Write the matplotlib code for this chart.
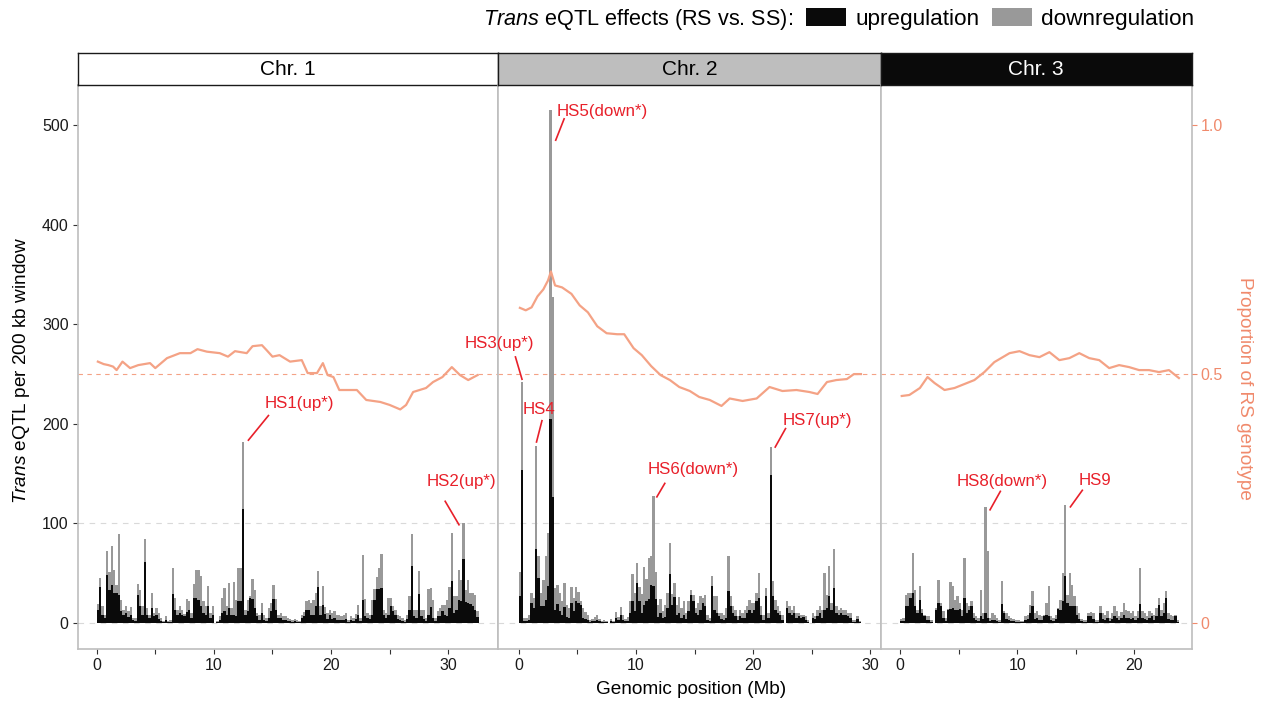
import numpy as np
import matplotlib.pyplot as plt
from matplotlib.patches import Patch

plt.rcParams['font.family'] = ['Liberation Sans', 'DejaVu Sans']
plt.rcParams['mathtext.fontset'] = 'custom'
plt.rcParams['mathtext.rm'] = 'Liberation Sans'
plt.rcParams['mathtext.it'] = 'Liberation Sans:italic'

# ---- data: trans eQTL counts per 200 kb window (upregulation / downregulation) ----
chrom_names = ['Chr. 1', 'Chr. 2', 'Chr. 3']
window_mb = 0.2

chr1_up = [13, 36, 8, 5, 48, 33, 38, 30, 30, 28, 12, 8, 10, 6, 8, 3, 2, 28, 17, 8,
           61, 8, 5, 15, 7, 8, 4, 2, 1, 3, 1, 1, 29, 13, 8, 10, 8, 7, 11, 13,
           5, 25, 25, 23, 17, 10, 8, 17, 5, 8, 0, 1, 3, 10, 12, 8, 15, 8, 8, 7,
           22, 22, 115, 8, 12, 25, 24, 15, 7, 3, 10, 3, 2, 5, 12, 24, 13, 5, 5, 3,
           3, 2, 2, 1, 2, 1, 1, 5, 7, 13, 13, 8, 8, 17, 36, 8, 18, 9, 4, 8,
           4, 5, 3, 3, 3, 3, 4, 1, 3, 2, 4, 8, 2, 23, 7, 5, 4, 8, 23, 34,
           34, 35, 8, 5, 8, 17, 12, 8, 4, 3, 2, 1, 4, 13, 57, 7, 5, 29, 7, 4,
           2, 8, 16, 5, 2, 7, 7, 12, 8, 7, 15, 42, 10, 13, 23, 22, 64, 21, 20, 19,
           17, 13, 6]
chr1_down = [6, 9, 9, 3, 24, 18, 39, 23, 8, 61, 11, 5, 7, 6, 8, 2, 3, 11, 16, 9,
             23, 7, 3, 15, 3, 7, 6, 3, 1, 4, 1, 2, 26, 12, 5, 7, 5, 2, 13, 9,
             5, 14, 28, 30, 30, 12, 9, 20, 5, 9, 0, 1, 4, 15, 23, 9, 25, 7, 33, 16,
             33, 33, 67, 5, 11, 2, 20, 18, 3, 5, 10, 5, 3, 10, 8, 14, 11, 3, 5, 4,
             4, 3, 2, 2, 2, 2, 1, 3, 4, 9, 10, 12, 15, 13, 16, 9, 19, 7, 6, 5,
             6, 7, 5, 5, 4, 5, 6, 2, 4, 3, 5, 10, 3, 45, 17, 5, 4, 15, 11, 12,
             21, 34, 5, 5, 17, 8, 5, 5, 4, 4, 3, 2, 4, 14, 32, 6, 8, 23, 6, 9,
             3, 26, 19, 18, 3, 5, 8, 6, 10, 16, 21, 48, 17, 14, 30, 21, 36, 12, 23, 11,
             13, 15, 6]

chr2_up = [27, 154, 2, 2, 3, 20, 15, 74, 45, 17, 17, 23, 37, 205, 127, 13, 19, 12, 8, 16,
           6, 5, 20, 12, 22, 20, 18, 5, 4, 3, 1, 2, 2, 3, 2, 1, 1, 1, 0, 2,
           1, 5, 3, 8, 3, 2, 2, 10, 22, 12, 40, 22, 10, 18, 22, 24, 38, 37, 24, 6,
           10, 5, 6, 15, 49, 18, 26, 8, 10, 5, 8, 4, 12, 28, 22, 10, 8, 13, 20, 17,
           3, 2, 37, 13, 10, 7, 4, 3, 5, 32, 17, 10, 7, 3, 7, 5, 5, 10, 13, 10,
           13, 22, 25, 8, 3, 27, 5, 149, 27, 13, 10, 8, 3, 0, 15, 10, 8, 10, 5, 7,
           5, 6, 3, 1, 0, 5, 4, 7, 10, 5, 13, 15, 27, 13, 35, 10, 8, 10, 8, 8,
           7, 5, 1, 1, 4, 1]
chr2_down = [24, 88, 3, 3, 5, 10, 10, 104, 22, 13, 26, 44, 53, 310, 200, 22, 19, 18, 14, 24,
             12, 10, 16, 13, 14, 11, 4, 10, 7, 5, 2, 2, 4, 5, 2, 1, 2, 1, 0, 2,
             1, 6, 3, 8, 5, 2, 4, 12, 27, 18, 20, 14, 19, 38, 22, 41, 29, 91, 27, 12,
             14, 7, 12, 15, 31, 11, 14, 10, 16, 10, 14, 6, 10, 5, 6, 5, 12, 14, 5, 11,
             5, 3, 10, 14, 17, 3, 6, 5, 10, 35, 10, 7, 6, 4, 6, 5, 8, 7, 10, 10,
             7, 8, 25, 9, 5, 8, 5, 28, 15, 10, 7, 4, 5, 0, 7, 7, 5, 7, 5, 3,
             3, 2, 4, 2, 0, 5, 3, 6, 7, 8, 37, 13, 30, 7, 39, 7, 5, 5, 5, 5,
             3, 5, 2, 2, 3, 1]

chr3_up = [2, 2, 17, 17, 25, 30, 17, 10, 23, 10, 7, 3, 3, 1, 0, 13, 20, 17, 5, 2,
           13, 14, 15, 13, 13, 14, 7, 25, 10, 13, 17, 5, 3, 2, 7, 4, 10, 5, 2, 3,
           3, 2, 1, 19, 10, 4, 3, 2, 2, 1, 1, 1, 1, 3, 4, 10, 17, 4, 5, 3,
           3, 7, 8, 7, 3, 2, 4, 14, 13, 22, 47, 20, 17, 17, 17, 8, 4, 2, 1, 1,
           7, 7, 4, 1, 1, 10, 4, 3, 5, 2, 4, 7, 5, 3, 5, 8, 5, 5, 4, 5,
           3, 5, 19, 5, 4, 3, 5, 7, 3, 7, 18, 7, 10, 25, 4, 3, 3, 7, 1]
chr3_down = [2, 3, 11, 13, 5, 40, 16, 3, 14, 4, 1, 4, 4, 2, 0, 2, 23, 3, 7, 3,
             1, 27, 22, 10, 14, 6, 6, 40, 10, 4, 5, 5, 4, 3, 26, 6, 107, 67, 3, 7,
             5, 3, 2, 23, 2, 6, 4, 3, 2, 2, 2, 1, 1, 4, 4, 8, 15, 6, 7, 5,
             4, 1, 12, 30, 4, 3, 4, 1, 10, 28, 72, 8, 33, 21, 10, 9, 6, 2, 2, 2,
             3, 4, 6, 2, 2, 7, 6, 5, 7, 3, 6, 10, 7, 4, 6, 12, 8, 7, 6, 7,
             4, 7, 36, 7, 6, 4, 7, 3, 5, 8, 7, 6, 10, 7, 6, 5, 4, 1, 2]

# ---- proportion of RS genotype along each chromosome ----
chr1_rs_pos = [0.1, 0.6, 1.0, 1.4, 1.7, 2.2, 2.85, 3.55, 4.55, 5.0, 6.0, 7.1, 8.0, 8.6, 9.4,
               10.5, 11.2, 11.8, 12.8, 13.3, 14.1, 14.5, 15.0, 15.6, 16.5, 17.5, 18.0, 18.8,
               19.3, 19.7, 20.2, 20.7, 21.3, 22.2, 23.0, 24.2, 25.0, 25.9, 26.4, 27.0, 28.1,
               28.7, 29.5, 30.3, 31.0, 31.7, 32.5]
chr1_rs = [0.525, 0.52, 0.518, 0.515, 0.508, 0.525, 0.512, 0.518, 0.522, 0.512, 0.532, 0.542,
           0.542, 0.55, 0.545, 0.542, 0.535, 0.546, 0.542, 0.556, 0.558, 0.548, 0.535, 0.538,
           0.525, 0.528, 0.502, 0.502, 0.522, 0.498, 0.494, 0.468, 0.468, 0.468, 0.448, 0.444,
           0.438, 0.429, 0.438, 0.464, 0.472, 0.484, 0.494, 0.514, 0.498, 0.488, 0.498]
chr2_rs_pos = [0.1, 0.6, 1.1, 1.6, 2.1, 2.5, 2.75, 3.1, 3.7, 4.5, 5.2, 5.9, 6.7, 7.5, 8.4,
               9.0, 9.8, 10.5, 11.3, 12.1, 12.9, 13.7, 14.6, 15.4, 16.3, 17.3, 18.0, 19.1,
               20.3, 21.4, 22.5, 23.7, 24.8, 25.5, 26.3, 27.1, 28.0, 28.6, 29.2]
chr2_rs = [0.633, 0.628, 0.634, 0.656, 0.670, 0.688, 0.706, 0.678, 0.674, 0.661, 0.638, 0.624,
           0.596, 0.582, 0.580, 0.580, 0.552, 0.538, 0.516, 0.498, 0.488, 0.474, 0.466, 0.454,
           0.448, 0.436, 0.451, 0.446, 0.451, 0.474, 0.466, 0.468, 0.464, 0.460, 0.484, 0.488,
           0.490, 0.500, 0.500]
chr3_rs_pos = [0.15, 0.8, 1.7, 2.35, 2.95, 3.8, 4.65, 5.5, 6.35, 7.2, 8.05, 9.35, 10.2, 11.05,
               11.9, 12.75, 13.6, 14.45, 15.3, 16.15, 17.0, 17.85, 18.7, 19.55, 20.4, 21.25,
               22.1, 22.95, 23.8]
chr3_rs = [0.456, 0.458, 0.472, 0.494, 0.482, 0.468, 0.472, 0.48, 0.488, 0.504, 0.524, 0.542,
           0.546, 0.538, 0.534, 0.544, 0.528, 0.532, 0.542, 0.532, 0.528, 0.512, 0.518, 0.514,
           0.508, 0.508, 0.504, 0.508, 0.492]

# ---- hotspots: chromosome, window index, label ----
hs_chrom = [0, 0, 1, 1, 1, 1, 1, 2, 2]
hs_window = [62, 156, 1, 7, 13, 57, 107, 36, 70]
hs_labels = ['HS1(up*)', 'HS2(up*)', 'HS3(up*)', 'HS4', 'HS5(down*)',
             'HS6(down*)', 'HS7(up*)', 'HS8(down*)', 'HS9']
# label placement relative to the bar top (Mb, count): leader start, leader end, text
hs_offsets = [((0.4, 1), (2.2, 27), (4.8, 38)),
              ((-0.35, -2), (-1.6, 23), (-0.2, 42)),
              ((0.0, 2), (-0.6, 26), (-1.95, 39)),
              ((0.0, 3), (0.5, 26), (0.25, 36)),
              ((0.43, -31), (1.2, -8), (4.4, -1)),
              ((0.25, -2), (1.0, 13), (3.4, 26)),
              ((0.35, -1), (1.3, 19), (4.0, 26)),
              ((0.35, -4), (1.3, 16), (1.4, 25)),
              ((0.4, -3), (1.5, 15), (2.55, 24))]

ups = [chr1_up, chr2_up, chr3_up]
downs = [chr1_down, chr2_down, chr3_down]
rs_pos = [chr1_rs_pos, chr2_rs_pos, chr3_rs_pos]
rs_val = [chr1_rs, chr2_rs, chr3_rs]

# ---- layout ----
W, H = 1265, 702
fig = plt.figure(figsize=(W / 100, H / 100), dpi=100)

def box(x0, y0, x1, y1):
    return [x0 / W, 1 - y1 / H, (x1 - x0) / W, (y1 - y0) / H]

xlims = [(-1.62, 34.27), (-1.74, 30.89), (-1.64, 24.9)]
ylim = (-26.0, 540.2)
px_per_mb = 11.72
panel_left, panel_top, panel_bottom = 77.7, 85, 649
strip_top = 53
strip_bg = ['white', '#BEBEBE', '#0A0A0A']
strip_fg = ['black', 'black', 'white']

c_up, c_down = '#0A0A0A', '#999999'
c_rs = '#F4A285'
c_rs_text = '#F08A6C'
c_red = '#E8202A'
border = '#BEBEBE'

x0 = panel_left
axes = []
for k in range(3):
    width_px = (xlims[k][1] - xlims[k][0]) * px_per_mb
    x1 = x0 + width_px
    ax = fig.add_axes(box(x0, panel_top, x1, panel_bottom))
    up = np.array(ups[k])
    down = np.array(downs[k])
    pos = np.arange(len(up)) * window_mb + window_mb / 2

    ax.axhline(0, color='#D9D9D9', lw=0.8, ls=(0, (5, 5)), zorder=0.5)
    ax.axhline(100, color='#D9D9D9', lw=0.8, ls=(0, (5, 5)), zorder=0.5)
    ax.axhline(250, color=c_rs, lw=0.8, ls=(0, (4, 4)), zorder=0.5)
    ax.bar(pos, up, width=window_mb, color=c_up, lw=0, zorder=2)
    ax.bar(pos, down, bottom=up, width=window_mb, color=c_down, lw=0, zorder=2)
    ax.plot(rs_pos[k], np.array(rs_val[k]) * 500, color=c_rs, lw=1.6, zorder=3)

    ax.set_xlim(*xlims[k])
    ax.set_ylim(*ylim)
    ticks = np.arange(0, xlims[k][1], 5)
    ax.set_xticks(ticks)
    ax.set_xticklabels([f'{int(t)}' if t % 10 == 0 else '' for t in ticks])
    ax.tick_params(axis='x', length=3.5, width=0.8, color='#333333', labelsize=11.5,
                   labelcolor='#1A1A1A', pad=3)
    if k == 0:
        ax.set_yticks([0, 100, 200, 300, 400, 500])
        ax.tick_params(axis='y', length=3.5, width=0.8, color='#333333', labelsize=11.5,
                       labelcolor='#1A1A1A', pad=3)
    else:
        ax.set_yticks([])
    for sp in ax.spines.values():
        sp.set_color(border)
        sp.set_linewidth(1.2)

    # strip
    sax = fig.add_axes(box(x0, strip_top, x1, panel_top))
    sax.set_facecolor(strip_bg[k])
    sax.set_xticks([])
    sax.set_yticks([])
    for sp in sax.spines.values():
        sp.set_color('#1A1A1A')
        sp.set_linewidth(1.0)
    sax.text(0.5, 0.47, chrom_names[k], ha='center', va='center', fontsize=15,
             color=strip_fg[k], transform=sax.transAxes)

    axes.append(ax)
    x0 = x1

# secondary axis on the right panel
rax = axes[2].twinx()
rax.set_ylim(ylim[0] / 500, ylim[1] / 500)
rax.set_yticks([0, 0.5, 1.0])
rax.set_yticklabels(['0', '0.5', '1.0'])
rax.tick_params(axis='y', length=3.5, width=0.8, color=c_rs_text, labelsize=11.5,
                labelcolor=c_rs_text, pad=3)
for sp in rax.spines.values():
    sp.set_visible(False)

# hotspot labels
for c, w, lab, (s, e, t) in zip(hs_chrom, hs_window, hs_labels, hs_offsets):
    ax = axes[c]
    bx = w * window_mb + window_mb / 2
    top = ups[c][w] + downs[c][w]
    ax.plot([bx + s[0], bx + e[0]], [top + s[1], top + e[1]], color=c_red, lw=1.2,
            zorder=4, solid_capstyle='butt')
    ax.text(bx + t[0], top + t[1], lab, ha='center', va='center', fontsize=12.2,
            color=c_red, zorder=4)

# axis titles
fig.text(22 / W, 1 - 370 / H, r'$\it{Trans}$ eQTL per 200 kb window', rotation=90,
         ha='center', va='center', fontsize=13.7, color='black')
fig.text(691 / W, 1 - 690 / H, 'Genomic position (Mb)', ha='center', va='center',
         fontsize=13.7, color='black')
fig.text(1245 / W, 1 - 388 / H, 'Proportion of RS genotype', rotation=270,
         ha='center', va='center', fontsize=13.7, color=c_rs_text)

# legend
fig.text(793 / W, 1 - 19 / H, r'$\it{Trans}$ eQTL effects (RS vs. SS):', ha='right',
         va='center', fontsize=15.6)
handles = [Patch(facecolor=c_up, edgecolor='none'), Patch(facecolor=c_down, edgecolor='none')]
fig.legend(handles, ['upregulation', 'downregulation'], ncol=2, loc='center left',
           bbox_to_anchor=(806 / W, 1 - 19 / H), frameon=False, fontsize=16.2,
           handlelength=1.78, handleheight=0.8, handletextpad=0.4, columnspacing=0.55,
           borderpad=0, borderaxespad=0)

fig.savefig('out.png', dpi=100)
plt.close(fig)
